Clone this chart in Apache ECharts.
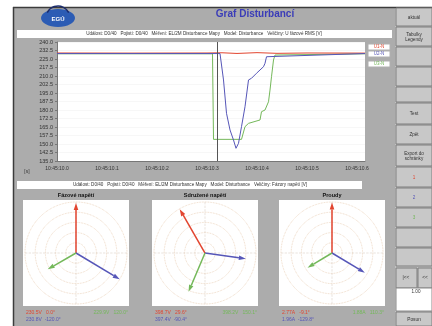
<!DOCTYPE html>
<html><head><meta charset="utf-8">
<script src="https://cdn.jsdelivr.net/npm/echarts@6/dist/echarts.min.js"></script>
<style>html,body{margin:0;padding:0;background:#fff}#c{width:432px;height:326px}</style>
</head><body><div id="c"></div>
<script>
// ---- data ----
const xTickLabels = ['10:45:10.0','10:45:10.1','10:45:10.2','10:45:10.3','10:45:10.4','10:45:10.5','10:45:10.6'];
const redX   = [0, 150, 300, 330, 360, 400, 440, 500, 616];
const redY   = [230.3, 230.2, 230.3, 230.5, 229.9, 230.6, 230.0, 230.3, 230.2];
const blueX  = [0, 326, 333, 339, 346, 353, 358, 363, 369, 376, 383, 389, 399, 406, 413, 416, 419, 423, 616];
const blueY  = [229.8, 229.8, 206.5, 177.1, 162.4, 153.5, 146.2, 150.6, 165.3, 182.9, 206.5, 208.0, 212.4, 215.3, 218.2, 221.2, 227.0, 228.5, 229.8];
const greenX = [0, 311, 313, 369, 376, 383, 406, 409, 416, 423, 426, 429, 433, 436, 616];
const greenY = [229.6, 229.6, 154.1, 154.1, 165.3, 168.2, 171.2, 178.5, 180.0, 187.3, 197.6, 209.4, 224.1, 228.5, 229.6];
const cursorX = 321;
const legendNames = ['U1-N', 'U2-N', 'U3-N'];

const panelTitles = ['Fázové napětí', 'Sdružené napětí', 'Proudy'];
const phasorAmp = [[245, 250, 160], [248, 202, 207], [248, 188, 140]]; // red, blue, green
const phasorAng = [[90, 329, 210], [120, 352, 247], [90, 329, 211]];
const panelRed   = ['230.5V   0.0°', '398.7V   29.6°', '2.77A   -9.1°'];
const panelBlue  = ['230.8V  -120.0°', '397.4V  -90.4°', '1.96A  -129.8°'];
const panelGreen = ['229.9V   120.0°', '398.2V   150.1°', '1.88A   110.3°'];

const buttonLabels = ['aktuál', 'Tabulky\nLegendy', '', '', '', 'Test', 'Zpět', 'Export do\nschránky', '1', '2', '3', '', ''];

// ---- styling ----
const C_RED = '#e2452f', C_BLUE = '#5656b8', C_GREEN = '#74b85a';
const phaseCol = [C_RED, C_BLUE, C_GREEN];
const FONT = '"Liberation Sans", Arial, sans-serif';

const chart = echarts.init(document.getElementById('c'), null, {renderer: 'canvas'});

const g = [];
function rect(x, y, w, h, fill, stroke, z) {
  g.push({type: 'rect', z: z == null ? -10 : z, shape: {x, y, width: w, height: h},
    style: {fill, stroke: stroke || null, lineWidth: stroke ? 1 : 0}});
}
function text(x, y, t, size, color, align, weight) {
  g.push({type: 'text', z: 50, x, y, style: {text: t, fill: color, font: (weight || 'normal') + ' ' + size + 'px ' + FONT,
    textAlign: align || 'left', textVerticalAlign: 'middle', align: align || 'left', verticalAlign: 'middle'}});
}
// app frame
rect(13, 7, 419, 319, '#acacac');
g.push({type: 'line', z: -9, shape: {x1: 13, y1: 7.5, x2: 432, y2: 7.5}, style: {stroke: '#3c3c3c', lineWidth: 1.5}});
g.push({type: 'line', z: -9, shape: {x1: 13.5, y1: 7, x2: 13.5, y2: 326}, style: {stroke: '#3c3c3c', lineWidth: 1.5}});
// logo
g.push({type: 'ellipse', z: -8, shape: {cx: 58, cy: 18, rx: 17, ry: 9}, style: {fill: '#2c5cb4'}});
g.push({type: 'arc', z: -8, shape: {cx: 58, cy: 18, r: 12, startAngle: Math.PI * 1.15, endAngle: Math.PI * 1.85}, style: {stroke: '#1c2c6c', lineWidth: 1.5, fill: null}});
text(58, 19, 'EGÚ', 6, '#ffffff', 'center', 'bold');
// title
text(255, 14, 'Graf Disturbancí', 10, '#3a3cb8', 'center', 'bold');
// info bar 1
rect(17, 30, 375, 8, '#ffffff');
text(204, 34, 'Událost: D0/40   Pojistí: D0/40   Měření: EL/2M Disturbance Mapy   Model: Disturbance   Veličiny: U fázové RMS [V]', 4.6, '#333', 'center');
// plot background
rect(57, 42, 308, 119, '#ffffff');
// legend boxes
const legY = [44, 51, 61];
legendNames.forEach((n, i) => { rect(368, legY[i], 22, 6, '#ffffff', '#b0b0b0'); text(379, legY[i] + 3, n, 4.5, phaseCol[i], 'center'); });
text(27, 172, '[s]', 5, '#333', 'center');
// info bar 2
rect(17, 181, 345, 8, '#ffffff');
text(190, 185, 'Událost: D0/40   Pojistí: D0/40   Měření: EL/2M Disturbance Mapy   Model: Disturbance   Veličiny: Fázory napětí [V]', 4.6, '#333', 'center');
// polar panels
const panelX = [23, 152, 279];
panelX.forEach((px, i) => {
  rect(px, 200, 106, 106, '#ffffff');
  text(px + 53, 195, panelTitles[i], 5.5, '#111', 'center', 'bold');
  text(px + 3, 313, panelRed[i], 5, C_RED, 'left');
  text(px + 3, 320, panelBlue[i], 5, C_BLUE, 'left');
  text(px + 105, 313, panelGreen[i], 5, C_GREEN, 'right');
});
// right button column
rect(395, 7, 37, 319, '#c2c2c2');
const btnY = [8, 27, 47, 67, 87, 103, 125, 145, 167, 188, 208, 228, 248, 267];
for (let i = 0; i < btnY.length - 1; i++) {
  const y0 = btnY[i], h = btnY[i + 1] - y0;
  rect(396, y0, 36, h - 1, '#c8c8c8', '#7e7e7e', -7);
  const lab = buttonLabels[i];
  if (lab) {
    const col = lab === '1' ? C_RED : lab === '2' ? C_BLUE : lab === '3' ? C_GREEN : '#333';
    text(414, y0 + h / 2, lab, 4.6, col, 'center');
  }
}
rect(396, 268, 21, 20, '#c8c8c8', '#7e7e7e', -7); text(406, 278, '|<<', 4.8, '#333', 'center');
rect(418, 268, 14, 20, '#c8c8c8', '#7e7e7e', -7); text(425, 278, '<<', 4.8, '#333', 'center');
rect(396, 288, 36, 23, '#ffffff', '#8a8a8a', -7); text(416, 292, '1.00', 4.6, '#333', 'center');
rect(396, 312, 36, 14, '#c8c8c8', '#7e7e7e', -7); text(414, 320, 'Posun', 4.8, '#333', 'center');

const polarCenters = [[76, 253], [205, 253], [332, 253]];

const series = [
  {type: 'line', xAxisIndex: 0, yAxisIndex: 0, data: redX.map((x, i) => [x, redY[i]]), showSymbol: false,
   lineStyle: {color: C_RED, width: 1}, itemStyle: {color: C_RED}, z: 3,
   markLine: {silent: true, symbol: 'none', label: {show: false}, lineStyle: {color: '#555', width: 1, type: 'solid'}, data: [{xAxis: cursorX}]}},
  {type: 'line', data: blueX.map((x, i) => [x, blueY[i]]), showSymbol: false, lineStyle: {color: C_BLUE, width: 1}, itemStyle: {color: C_BLUE}, z: 4},
  {type: 'line', data: greenX.map((x, i) => [x, greenY[i]]), showSymbol: false, lineStyle: {color: C_GREEN, width: 1}, itemStyle: {color: C_GREEN}, z: 2}
];

function renderPhasor(params, api) {
  const r = api.value(0), a = api.value(1);
  const c = api.coord([0, a]);
  const p = api.coord([r, a]);
  const col = phaseCol[params.dataIndex];
  const dx = p[0] - c[0], dy = p[1] - c[1];
  const L = Math.hypot(dx, dy) || 1, ux = dx / L, uy = dy / L;
  const hl = 7, hw = 2.3;
  const bx = p[0] - ux * hl, by = p[1] - uy * hl;
  return {type: 'group', children: [
    {type: 'line', shape: {x1: c[0], y1: c[1], x2: bx, y2: by}, style: {stroke: col, lineWidth: 1.5}},
    {type: 'polygon', shape: {points: [[p[0], p[1]], [bx - uy * hw, by + ux * hw], [bx + uy * hw, by - ux * hw]]}, style: {fill: col}}
  ]};
}
for (let k = 0; k < 3; k++) {
  series.push({type: 'custom', coordinateSystem: 'polar', polarIndex: k, silent: true,
    data: phasorAmp[k].map((r, i) => [r, phasorAng[k][i]]), renderItem: renderPhasor, z: 5});
}

chart.setOption({
  animation: false,
  graphic: g,
  grid: {left: 57, top: 42, width: 308, height: 119, show: false},
  xAxis: {type: 'value', min: 0, max: 616, interval: 100,
    axisLine: {show: true, lineStyle: {color: '#777'}}, axisTick: {show: false}, splitLine: {show: false},
    axisLabel: {fontSize: 5, color: '#333', fontFamily: FONT, margin: 5, showMaxLabel: false,
      formatter: v => xTickLabels[Math.round(v / 100)] || ''}},
  yAxis: {type: 'value', min: 135, max: 240, interval: 7.5,
    axisLine: {show: true, lineStyle: {color: '#777'}}, axisTick: {show: true, length: 2, lineStyle: {color: '#777'}},
    splitLine: {show: true, lineStyle: {color: '#f1f1f1', width: 0.6}},
    axisLabel: {fontSize: 5.5, color: '#333', fontFamily: FONT, margin: 4, formatter: v => v.toFixed(1)}},
  polar: polarCenters.map(c => ({center: c, radius: 51})),
  angleAxis: [0, 1, 2].map(i => ({polarIndex: i, type: 'value', min: 0, max: 360, startAngle: 0, clockwise: false, interval: 90,
    axisLine: {show: false}, axisTick: {show: false}, axisLabel: {show: false},
    splitLine: {show: true, lineStyle: {color: '#dcd2c8', type: 'dashed', width: 0.6}}})),
  radiusAxis: [0, 1, 2].map(i => ({polarIndex: i, type: 'value', min: 0, max: 250, interval: 50,
    axisLine: {show: false}, axisTick: {show: false}, axisLabel: {show: false},
    splitLine: {show: true, lineStyle: {color: '#e8cdb2', type: 'dotted', width: 0.8}}})),
  series
});
</script></body></html>
